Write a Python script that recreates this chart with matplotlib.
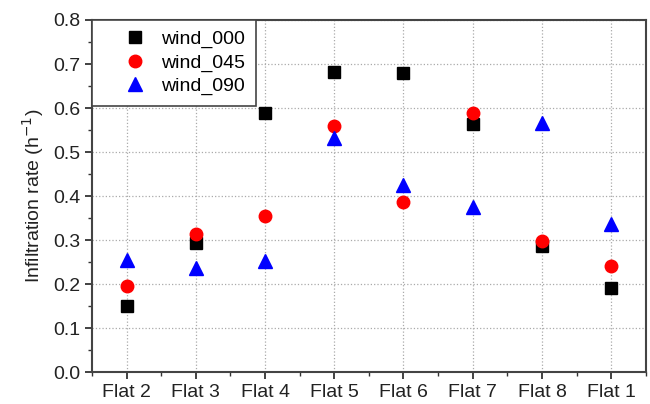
import matplotlib.pyplot as plt
import numpy as np
from matplotlib.ticker import MultipleLocator
from matplotlib.lines import Line2D
from matplotlib.legend_handler import HandlerLine2D

plt.rcParams['font.family'] = ['Liberation Sans', 'DejaVu Sans']

flats = ['Flat 2', 'Flat 3', 'Flat 4', 'Flat 5', 'Flat 6', 'Flat 7', 'Flat 8', 'Flat 1']
wind_000 = [0.151, 0.293, 0.589, 0.683, 0.679, 0.563, 0.286, 0.191]
wind_045 = [0.196, 0.314, 0.355, 0.559, 0.386, 0.590, 0.299, 0.242]
wind_090 = [0.255, 0.238, 0.252, 0.532, 0.425, 0.376, 0.567, 0.337]

x = np.arange(len(flats))

fig = plt.figure(figsize=(6.5, 4.04), dpi=100)
ax = fig.add_axes([0.1415, 0.078, 0.852, 0.8725])

ax.plot(x, wind_000, 's', color='black', markersize=8, label='wind_000', zorder=3)
ax.plot(x, wind_045, 'o', color='red', markersize=9, label='wind_045', zorder=3)
ax.plot(x, wind_090, '^', color='blue', markersize=10, label='wind_090', zorder=3)

ax.set_xlim(-0.5, 7.5)
ax.set_ylim(0, 0.8)
ax.set_xticks(x)
ax.set_xticklabels(flats)
ax.xaxis.set_minor_locator(MultipleLocator(0.5))
ax.yaxis.set_major_locator(MultipleLocator(0.1))
ax.yaxis.set_minor_locator(MultipleLocator(0.05))
ax.yaxis.set_major_formatter(plt.FormatStrFormatter('%.1f'))

ax.grid(True, which='major', color='#aaaaaa', linestyle=':', linewidth=0.9)
ax.tick_params(which='major', direction='out', length=5, width=1.3, labelsize=14, colors='#333333')
ax.tick_params(which='minor', direction='out', length=3, width=1.0, colors='#333333')
ax.tick_params(axis='both', labelcolor='#222222')

for s in ax.spines.values():
    s.set_color('#444444')
    s.set_linewidth(1.5)

ax.set_ylabel('Infiltration rate (h$^{-1}$)', fontsize=14, color='#222222', labelpad=5)

# shift legend markers right, closer to the labels
leg = ax.legend(loc='upper left', fontsize=14, frameon=True, fancybox=False,
                borderaxespad=0, handletextpad=0.8, labelspacing=0.28,
                borderpad=0.55, handlelength=2.2,
                handler_map={Line2D: HandlerLine2D(xpad=1.1)})
leg.get_frame().set_edgecolor('#444444')
leg.get_frame().set_linewidth(1.2)
leg.get_frame().set_alpha(1)

fig.savefig('out.png', dpi=100)
